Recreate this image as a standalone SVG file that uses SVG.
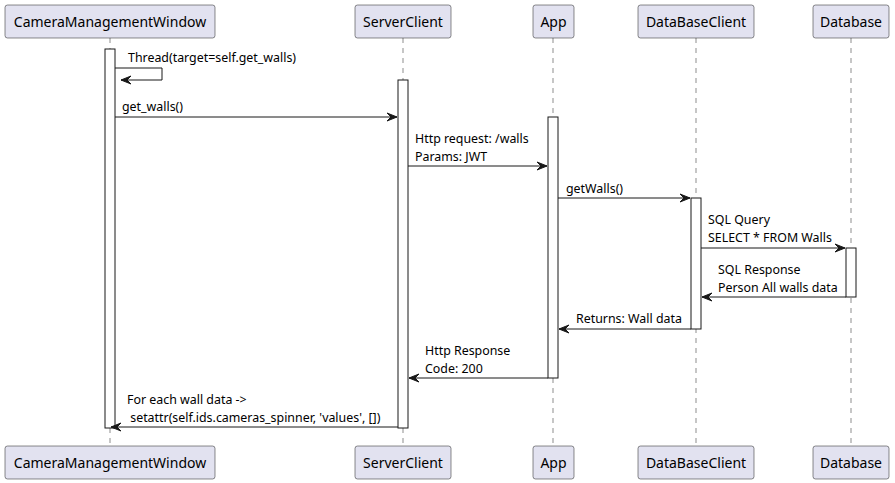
<svg xmlns="http://www.w3.org/2000/svg" width="895" height="483" viewBox="0 0 895 483">
<defs>
<style>
.box{fill:#E2E2F0;stroke:#181818;stroke-width:0.5}
.pt{font-family:"Noto Sans",sans-serif;font-size:14px;fill:#000}
.life{stroke:#181818;stroke-width:0.5;stroke-dasharray:5,5;fill:none}
.act{fill:#FFFFFF;stroke:#181818;stroke-width:1}
.msg{stroke:#181818;stroke-width:1;fill:none}
.mt{font-family:"Noto Sans",sans-serif;font-size:12.4px;fill:#000}
</style>
<marker id="arr" viewBox="0 0 12 10" refX="11" refY="5" markerWidth="12" markerHeight="10" markerUnits="userSpaceOnUse" orient="auto">
<polygon points="1,1 11,5 1,9 5,5" fill="#181818" stroke="#181818" stroke-width="1"/>
</marker>
</defs>
<rect width="895" height="483" fill="#FFFFFF"/>
<g id="lifelines">
<line class="life" x1="110" y1="38" x2="110" y2="446"/>
<line class="life" x1="403" y1="38" x2="403" y2="446"/>
<line class="life" x1="553" y1="38" x2="553" y2="446"/>
<line class="life" x1="696" y1="38" x2="696" y2="446"/>
<line class="life" x1="851" y1="38" x2="851" y2="446"/>
</g>
<g id="activations">
<rect class="act" x="105" y="49" width="10" height="379"/>
<rect class="act" x="398" y="80" width="10" height="348"/>
<rect class="act" x="548" y="117" width="10" height="261"/>
<rect class="act" x="691" y="198" width="10" height="131"/>
<rect class="act" x="846" y="248" width="10" height="49"/>
</g>
<g id="CameraManagementWindow">
<rect class="box" x="5" y="5" width="210" height="33" rx="2.5"/>
<text class="pt" x="110" y="26.5" text-anchor="middle">CameraManagementWindow</text>
<rect class="box" x="5" y="446" width="210" height="33" rx="2.5"/>
<text class="pt" x="110" y="467.5" text-anchor="middle">CameraManagementWindow</text>
</g>
<g id="ServerClient">
<rect class="box" x="355" y="5" width="96" height="33" rx="2.5"/>
<text class="pt" x="403" y="26.5" text-anchor="middle">ServerClient</text>
<rect class="box" x="355" y="446" width="96" height="33" rx="2.5"/>
<text class="pt" x="403" y="467.5" text-anchor="middle">ServerClient</text>
</g>
<g id="App">
<rect class="box" x="533" y="5" width="41" height="33" rx="2.5"/>
<text class="pt" x="553.5" y="26.5" text-anchor="middle">App</text>
<rect class="box" x="533" y="446" width="41" height="33" rx="2.5"/>
<text class="pt" x="553.5" y="467.5" text-anchor="middle">App</text>
</g>
<g id="DataBaseClient">
<rect class="box" x="638" y="5" width="116" height="33" rx="2.5"/>
<text class="pt" x="696" y="26.5" text-anchor="middle">DataBaseClient</text>
<rect class="box" x="638" y="446" width="116" height="33" rx="2.5"/>
<text class="pt" x="696" y="467.5" text-anchor="middle">DataBaseClient</text>
</g>
<g id="Database">
<rect class="box" x="813" y="5" width="76" height="33" rx="2.5"/>
<text class="pt" x="851" y="26.5" text-anchor="middle">Database</text>
<rect class="box" x="813" y="446" width="76" height="33" rx="2.5"/>
<text class="pt" x="851" y="467.5" text-anchor="middle">Database</text>
</g>
<g id="connectors">
<polyline class="msg" points="115,68 162,68 162,80 121,80" marker-end="url(#arr)"/>
<text class="mt" x="128" y="62">Thread(target=self.get_walls)</text>
<line class="msg" x1="115" y1="117" x2="397" y2="117" marker-end="url(#arr)"/>
<text class="mt" x="122" y="111">get_walls()</text>
<line class="msg" x1="408" y1="166" x2="547" y2="166" marker-end="url(#arr)"/>
<text class="mt" x="415" y="143">Http request: /walls</text>
<text class="mt" x="415" y="161">Params: JWT</text>
<line class="msg" x1="558" y1="198" x2="690" y2="198" marker-end="url(#arr)"/>
<text class="mt" x="566" y="193">getWalls()</text>
<line class="msg" x1="701" y1="248" x2="845" y2="248" marker-end="url(#arr)"/>
<text class="mt" x="708" y="224">SQL Query</text>
<text class="mt" x="708" y="242">SELECT * FROM Walls</text>
<line class="msg" x1="846" y1="297" x2="702" y2="297" marker-end="url(#arr)"/>
<text class="mt" x="718" y="274">SQL Response</text>
<text class="mt" x="718" y="292">Person All walls data</text>
<line class="msg" x1="691" y1="329" x2="559" y2="329" marker-end="url(#arr)"/>
<text class="mt" x="576" y="323">Returns: Wall data</text>
<line class="msg" x1="548" y1="378" x2="409" y2="378" marker-end="url(#arr)"/>
<text class="mt" x="425" y="355">Http Response</text>
<text class="mt" x="425" y="373">Code: 200</text>
<line class="msg" x1="398" y1="427" x2="111" y2="427" marker-end="url(#arr)"/>
<text class="mt" x="127" y="404">For each wall data -&gt;</text>
<text class="mt" x="127" y="422" xml:space="preserve"> setattr(self.ids.cameras_spinner, 'values', [])</text>
</g>
</svg>
